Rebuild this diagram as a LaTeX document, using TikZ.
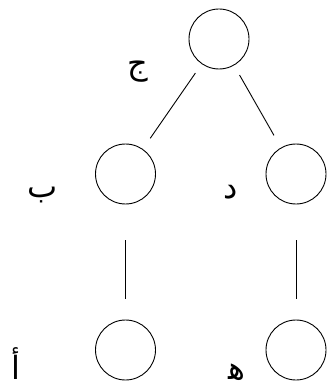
\documentclass[tikz,border=0pt]{standalone}
\usepackage{fontspec}
\newfontfamily\arabicfont[Script=Arabic]{DejaVu Sans}
\TeXXeTstate=1
\begin{document}
\begin{tikzpicture}[x=1pt,y=-1pt,
  vert/.style={circle,draw,line width=0.9pt,minimum size=60pt,inner sep=0pt},
  edge/.style={line width=0.9pt},
  lbl/.style={font=\arabicfont\fontsize{32}{38}\selectfont,inner sep=0pt}]
\useasboundingbox (0,0) rectangle (326,387);
\node[vert] (t) at (219,39) {};
\node[vert] (ml) at (125.5,174) {};
\node[vert] (mr) at (296,174) {};
\node[vert] (bl) at (125.5,350) {};
\node[vert] (br) at (296,350) {};
\draw[edge,shorten <=11pt,shorten >=13pt] (t) -- (ml);
\draw[edge,shorten <=11pt,shorten >=14pt] (t) -- (mr);
\draw[edge,shorten <=36pt,shorten >=21pt] (ml.south) -- (bl.north);
\draw[edge,shorten <=36pt,shorten >=21pt] (mr.south) -- (br.north);
\node[lbl] (lj) at (138,72) {\beginR ج\endR};
\node[lbl] (lb) at (43,195) {\beginR ب\endR};
\node[lbl] (ld) at (230.5,192) {\beginR د\endR};
\node[lbl] (la) at (16,364) {\beginR أ\endR};
\node[lbl] (lh) at (237,372) {\beginR ه\char"200D\endR};
\end{tikzpicture}
\end{document}
